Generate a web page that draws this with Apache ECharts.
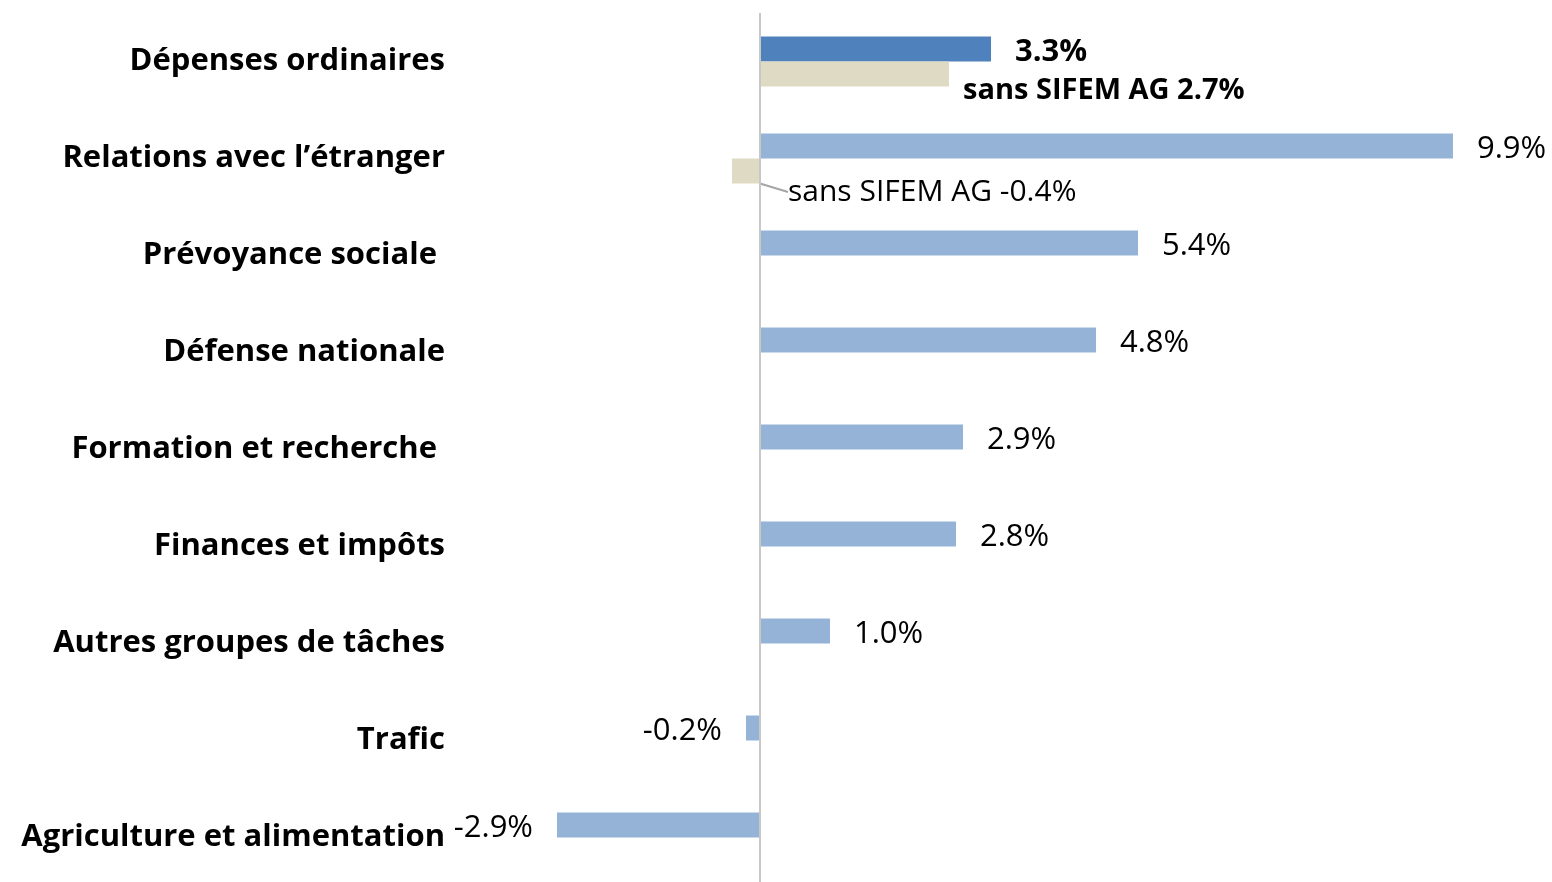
<!DOCTYPE html>
<html>
<head>
<meta charset="utf-8">
<script src="https://cdn.jsdelivr.net/npm/echarts@6/dist/echarts.min.js"></script>
<style>
  html, body { margin: 0; padding: 0; background: #fff; }
  #chart { width: 1552px; height: 882px; }
</style>
</head>
<body>
<div id="chart"></div>
<script>
// categories top to bottom
const categories = [
  'Dépenses ordinaires',
  'Relations avec l’étranger',
  'Prévoyance sociale ',
  'Défense nationale',
  'Formation et recherche ',
  'Finances et impôts',
  'Autres groupes de tâches',
  'Trafic',
  'Agriculture et alimentation'
]
// growth in %
const growth = [3.3, 9.9, 5.4, 4.8, 2.9, 2.8, 1.0, -0.2, -2.9]
// growth without SIFEM AG
const sansSifem = [2.7, -0.4, null, null, null, null, null, null, null]

const FONT = 'Open Sans'

const mainData = growth.map((v, i) => ({
  value: v,
  itemStyle: { color: i === 0 ? '#4F81BD' : '#95B3D7' },
  label: {
    position: v < 0 ? 'left' : 'right',
    fontWeight: i === 0 ? 'bold' : 'normal'
  }
}))

const sansData = sansSifem.map((v, i) => {
  if (v === null) return null
  return {
    value: v,
    label: {
      position: 'right',
      distance: i === 0 ? 14 : 28,
      fontWeight: i === 0 ? 'bold' : 'normal',
      fontSize: i === 0 ? 29 : 30,
      formatter: 'sans SIFEM AG ' + v.toFixed(1) + '%'
    },
    labelLine: { show: i === 1 }
  }
})

const chart = echarts.init(document.getElementById('chart'))
const option = {
  animation: false,
  grid: { left: 550, width: 910, top: 13, height: 873, outerBoundsMode: 'none', containLabel: false },
  xAxis: {
    type: 'value',
    min: -3,
    max: 10,
    show: false
  },
  yAxis: {
    type: 'category',
    inverse: true,
    data: categories,
    axisLine: { show: false },
    axisTick: { show: false },
    axisLabel: {
      margin: 105,
      fontFamily: FONT,
      fontWeight: 'bold',
      fontSize: 31,
      color: '#000',
      padding: [9, 0, 0, 0]
    }
  },
  series: [
    {
      type: 'bar',
      data: mainData,
      barWidth: 25,
      barGap: '0%',
      label: {
        show: true,
        distance: 24,
        offset: [0, 3],
        fontFamily: FONT,
        fontSize: 31,
        color: '#000',
        formatter: p => p.value.toFixed(1) + '%'
      },
      markLine: {
        silent: true,
        symbol: 'none',
        label: { show: false },
        lineStyle: { color: '#C8C8C8', width: 2, type: 'solid' },
        data: [{ xAxis: 0 }]
      }
    },
    {
      type: 'bar',
      data: sansData,
      barWidth: 25,
      itemStyle: { color: '#DFDAC4' },
      label: {
        show: true,
        fontFamily: FONT,
        color: '#000'
      },
      labelLine: {
        lineStyle: { color: '#A6A6A6', width: 2 }
      },
      labelLayout: p => {
        if (p.dataIndex === 0) return { dy: 17 }
        if (p.dataIndex === 1) return { dy: 21 }
        return {}
      }
    }
  ]
}
chart.setOption(option)
</script>
</body>
</html>
